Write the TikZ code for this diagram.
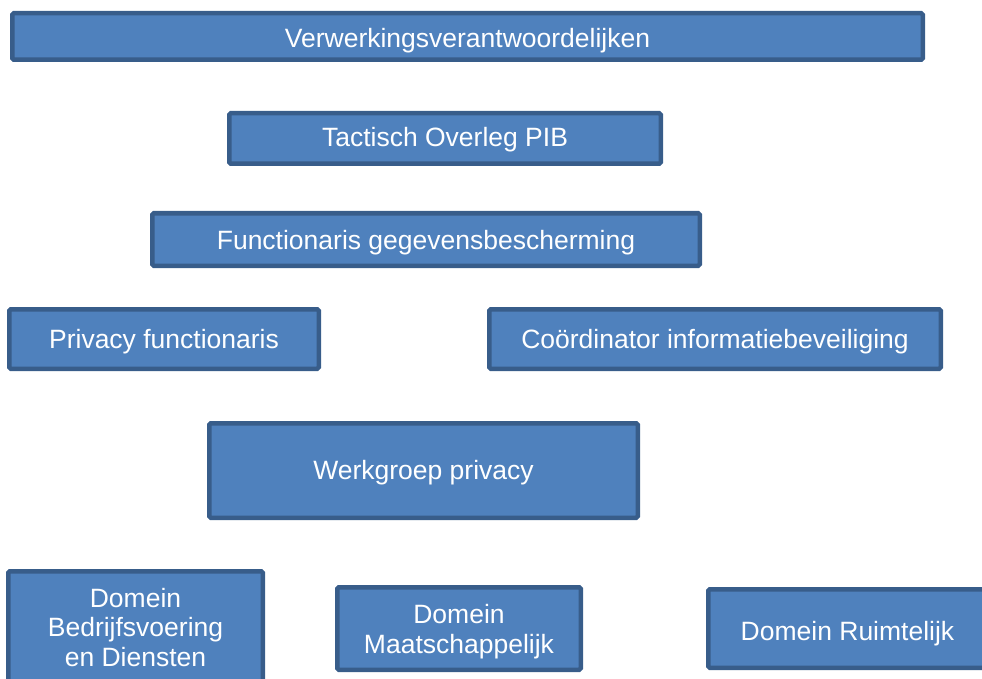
\documentclass[tikz,border=0pt]{standalone}
\usepackage{fontspec}
\setmainfont{Liberation Sans}
\definecolor{boxfill}{HTML}{4F81BD}
\definecolor{boxline}{HTML}{385D8A}
\begin{document}
\begin{tikzpicture}[x=1pt,y=-1pt,
  box/.style={draw=boxline, fill=boxfill, line width=4.5pt, rounded corners=1.5pt, inner sep=0pt},
  lbl/.style={text=white, inner sep=0pt, anchor=base, font=\fontsize{26.5}{31}\selectfont}]
\useasboundingbox (0,0) rectangle (982,679);
\clip (0,0) rectangle (982,679);
% boxes
\node[box, minimum width=910.5, minimum height=46.5] (vv) at (467.5,36.5) {};
\node[box, minimum width=431.5, minimum height=50.5] (to) at (445,138.5) {};
\node[box, minimum width=547.5, minimum height=52.5] (fg) at (426,239.5) {};
\node[box, minimum width=309.5, minimum height=59.5] (pf) at (164,339) {};
\node[box, minimum width=451.5, minimum height=59.5] (ci) at (715,339) {};
\node[box, minimum width=428.5, minimum height=94.5] (wp) at (423.5,470.5) {};
\node[box, minimum width=254.5, minimum height=115.5] (db) at (135.5,629) {};
\node[box, minimum width=243.5, minimum height=82.5] (dm) at (459,628.5) {};
\node[box, minimum width=278.5, minimum height=78.5] (dr) at (847.5,628.5) {};
% texts
\node[lbl] (tvv) at ([yshift=-11.5pt]vv.center) {Verwerkingsverantwoordelijken};
\node[lbl] (tto) at ([yshift=-8.2pt]to.center) {Tactisch Overleg PIB};
\node[lbl] (tfg) at ([yshift=-9.8pt]fg.center) {Functionaris gegevensbescherming};
\node[lbl] (tpf) at ([yshift=-9.3pt]pf.center) {Privacy functionaris};
\node[lbl] (tci) at ([yshift=-9.3pt]ci.center) {Coördinator informatiebeveiliging};
\node[lbl] (twp) at ([yshift=-8.5pt]wp.center) {Werkgroep privacy};
\node[lbl] (tdb1) at ([yshift=22pt]db.center) {Domein};
\node[lbl] (tdb2) at ([yshift=-7.8pt]db.center) {Bedrijfsvoering};
\node[lbl] (tdb3) at ([yshift=-37.5pt]db.center) {en Diensten};
\node[lbl] (tdm1) at ([yshift=5.5pt]dm.center) {Domein};
\node[lbl] (tdm2) at ([yshift=-24.5pt]dm.center) {Maatschappelijk};
\node[lbl] (tdr) at ([yshift=-11.5pt]dr.center) {Domein Ruimtelijk};
\end{tikzpicture}
\end{document}
